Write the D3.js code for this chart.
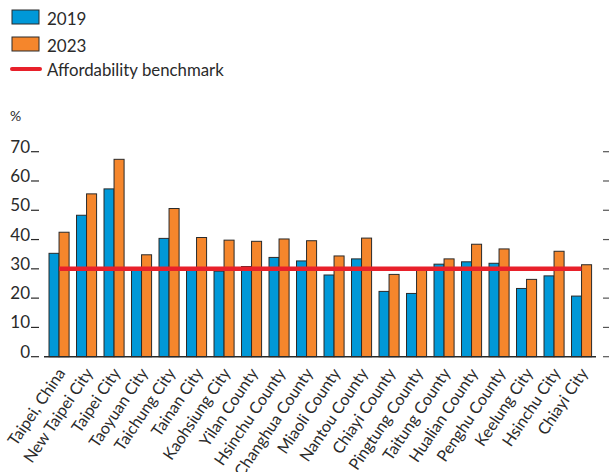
<!DOCTYPE html>
<html><head><meta charset="utf-8">
<script src="https://cdn.jsdelivr.net/npm/d3@7"></script>
<style>body{margin:0;background:#fff}svg{display:block;font-family:Lato,"Open Sans",sans-serif}</style>
</head><body>
<svg id="c" width="609" height="472"></svg>
<script>
const categories = ["Taipei, China","New Taipei City","Taipei City","Taoyuan City","Taichung City","Tainan City","Kaohsiung City","Yilan County","Hsinchu County","Changhua County","Miaoli County","Nantou County","Chiayi County","Pingtung County","Taitung County","Hualian County","Penghu County","Keelung City","Hsinchu City","Chiayi City"];
const values2019 = [35.3,48.3,57.3,29.6,40.4,29.6,29.2,30.8,33.9,32.7,27.9,33.4,22.3,21.6,31.6,32.4,31.9,23.3,27.6,20.7];
const values2023 = [42.5,55.6,67.4,34.8,50.6,40.7,39.8,39.4,40.2,39.6,34.4,40.5,28.1,30.2,33.4,38.4,36.8,26.4,36.0,31.4];
const benchmark = 30;
const yTicks = [0,10,20,30,40,50,60,70];
const seriesNames = ["2019","2023"];
const benchmarkName = "Affordability benchmark";

const blue = "#0098d8", orange = "#f5862c", red = "#e8202a", dark = "#2a2a2a";
const svg = d3.select("#c");

const y = d3.scaleLinear().domain([0,70]).range([356.7,151.7]);
const x = d3.scaleBand().domain(categories).range([45.3,595.3]).paddingInner(0.27).paddingOuter(0.135);
const xs = d3.scaleBand().domain(seriesNames).range([0,x.bandwidth()]);

// y ticks left
const gy = svg.append("g");
yTicks.forEach(t=>{
  gy.append("text").attr("x",30).attr("y",y(t)+1).attr("text-anchor","end")
    .attr("font-size",17).attr("fill",dark).text(t);
  gy.append("line").attr("x1",31).attr("x2",39).attr("y1",y(t)).attr("y2",y(t))
    .attr("stroke",dark).attr("stroke-width",1.2);
  gy.append("line").attr("x1",603).attr("x2",609).attr("y1",y(t)).attr("y2",y(t))
    .attr("stroke","#555").attr("stroke-width",1.2);
});
svg.append("text").attr("x",10).attr("y",121).attr("font-size",14).attr("fill",dark).text("%");

// bars
const g = svg.append("g");
categories.forEach((c,i)=>{
  [values2019[i],values2023[i]].forEach((v,j)=>{
    g.append("rect").attr("x",x(c)+xs(seriesNames[j])).attr("y",y(v))
      .attr("width",xs.bandwidth()).attr("height",y(0)-y(v))
      .attr("fill",j?orange:blue).attr("stroke",dark).attr("stroke-width",1);
  });
});

// axis line
svg.append("line").attr("x1",44).attr("x2",596).attr("y1",y(0)).attr("y2",y(0))
  .attr("stroke",dark).attr("stroke-width",1.5);

// benchmark
svg.append("line").attr("x1",x(categories[0])+x.bandwidth()/2)
  .attr("x2",x(categories[categories.length-1])+x.bandwidth()/2)
  .attr("y1",y(benchmark)).attr("y2",y(benchmark))
  .attr("stroke",red).attr("stroke-width",4.5);

// x labels: size chosen so "New Taipei City" is ~110px long
const probe = svg.append("text").attr("font-size",16).text(categories[1]);
const fs = 16 * 110 / probe.node().getComputedTextLength();
probe.remove();
categories.forEach(c=>{
  const cx = x(c)+x.bandwidth()/2+7;
  svg.append("text").attr("transform",`translate(${cx},${373}) rotate(-56)`)
    .attr("text-anchor","end").attr("font-size",fs).attr("fill",dark).text(c);
});

// legend
const lg = svg.append("g");
lg.append("rect").attr("x",12).attr("y",10).attr("width",27).attr("height",14).attr("fill",blue).attr("stroke",dark);
lg.append("text").attr("x",47).attr("y",25).attr("font-size",17).attr("fill",dark).text(seriesNames[0]);
lg.append("rect").attr("x",12).attr("y",37).attr("width",27).attr("height",14).attr("fill",orange).attr("stroke",dark);
lg.append("text").attr("x",47).attr("y",52).attr("font-size",17).attr("fill",dark).text(seriesNames[1]);
lg.append("line").attr("x1",12).attr("x2",40).attr("y1",69).attr("y2",69).attr("stroke",red).attr("stroke-width",4).attr("stroke-linecap","round");
lg.append("text").attr("x",47).attr("y",76).attr("font-size",16.8).attr("fill",dark).text(benchmarkName);
</script>
</body></html>
